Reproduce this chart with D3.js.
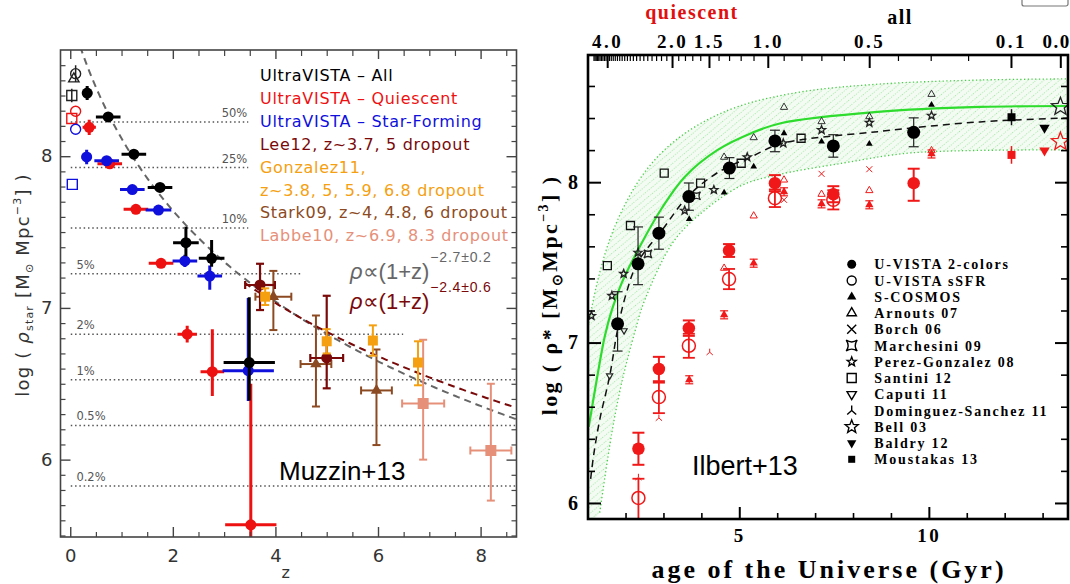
<!DOCTYPE html>
<html><head><meta charset="utf-8">
<script src="https://cdn.jsdelivr.net/npm/d3@7/dist/d3.min.js"></script>
<style>
html,body{margin:0;padding:0;background:#fff;}
svg{display:block;}
</style></head>
<body>
<svg id="fig" width="1070" height="584"></svg>
<script>
// ================= Left panel: Muzzin+13, log stellar mass density vs z =================
// rows: [z, log rho, half-width in z, error up, error down]
const uvAll = [
  [0.33, 8.416, 0.10, 0.046, 0.046], [0.74, 8.259, 0.24, 0.02, 0.02],
  [1.24, 8.013, 0.24, 0.02, 0.02], [1.75, 7.794, 0.24, 0.02, 0.02],
  [2.255, 7.43, 0.25, 0.105, 0.09], [2.756, 7.327, 0.25, 0.12, 0.055],
  [3.49, 6.64, 0.50, 0.43, 0.25]
];
const uvQui = [
  [0.37, 8.19, 0.13, 0.05, 0.05], [0.77, 7.95, 0.24, 0.02, 0.02],
  [1.28, 7.65, 0.24, 0.02, 0.02], [1.77, 7.294, 0.24, 0.02, 0.02],
  [2.28, 6.827, 0.19, 0.055, 0.055], [2.77, 6.58, 0.23, 0.28, 0.16],
  [3.52, 5.57, 0.50, 0.93, 0.30]
];
const uvSF = [
  [0.32, 7.995, 0.10, 0.048, 0.048], [0.71, 7.97, 0.24, 0.02, 0.02],
  [1.21, 7.78, 0.24, 0.02, 0.02], [1.72, 7.645, 0.25, 0.02, 0.02],
  [2.235, 7.31, 0.24, 0.04, 0.04], [2.72, 7.21, 0.24, 0.07, 0.09],
  [3.47, 6.586, 0.50, 0.48, 0.20]
];
// local reference points: [z, log rho, error, shape]
const localAll = [[0.105, 8.544, 0.055, "circle"], [0.07, 8.51, 0, "triUp"], [0.03, 8.40, 0.045, "square"]];
const localQui = [[0.105, 8.296, 0, "circle"], [0.03, 8.248, 0, "square"]];
const localSF  = [[0.105, 8.178, 0, "circle"], [0.04, 7.814, 0, "square"]];
// dropout samples: [z, log rho, half-width in z, error up, error down]
const lee12 = [[3.70, 7.151, 0.29, 0.14, 0.165], [5.00, 6.67, 0.32, 0.41, 0.20]];
const gonzalez11 = [[3.80, 7.074, 0, 0.055, 0.055], [5.00, 6.78, 0, 0.08, 0.08], [5.90, 6.785, 0, 0.10, 0.10], [6.78, 6.64, 0, 0.14, 0.15]];
const stark09 = [[3.96, 7.074, 0.35, 0.17, 0.22], [4.79, 6.63, 0.30, 0.32, 0.28], [5.97, 6.456, 0.30, 0.27, 0.36]];
const labbe10 = [[6.88, 6.37, 0.41, 0.42, 0.37], [8.20, 6.06, 0.40, 0.44, 0.33]];
// fraction-of-today reference levels
const pctLabels = ["50%", "25%", "10%", "5%", "2%", "1%", "0.5%", "0.2%"];
const pctLevels = [8.226, 7.925, 7.526, 7.225, 6.826, 6.526, 6.225, 5.826];
const pctEndZ   = [3.47, 3.47, 3.47, 4.50, 6.49, 8.70, 8.70, 8.70];
// power-law fits: log rho = norm + slope * log10(1+z)
const fitAll = {norm: 8.93, slope: -2.7, zFrom: -0.19};
const fitLBG = {norm: 8.71, slope: -2.4, zFrom: 3.40};
const legendLeft = [
  ["UltraVISTA – All", "#000000"], ["UltraVISTA – Quiescent", "#ee1111"],
  ["UltraVISTA – Star-Forming", "#1010dd"], ["Lee12, z~3.7, 5 dropout", "#7a0a0a"],
  ["Gonzalez11,", "#f5a010"], ["z~3.8, 5, 5.9, 6.8 dropout", "#f5a010"],
  ["Stark09, z~4, 4.8, 6 dropout", "#8c4a22"], ["Labbe10, z~6.9, 8.3 dropout", "#e6907a"]
];
const xTicksL = [0, 2, 4, 6, 8];
const yTicksL = [6, 7, 8];

// ================= Right panel: Ilbert+13, log stellar mass density vs cosmic age =================
// [age Gyr, log rho, error up, error down]
const vista2col = [[1.79, 7.117, 0.20, 0.17], [2.33, 7.491, 0.23, 0.13], [2.88, 7.682, 0.10, 0.10], [3.67, 7.910, 0.085, 0.085],
  [4.74, 8.088, 0.065, 0.065], [5.94, 8.257, 0.067, 0.067], [7.48, 8.226, 0.07, 0.07], [9.60, 8.311, 0.09, 0.09]];
const vista2colQ = [[2.34, 6.338, 0.10, 0.10], [2.88, 6.835, 0.076, 0.076], [3.67, 7.09, 0.048, 0.048], [4.73, 7.574, 0.04, 0.04],
  [5.94, 7.994, 0.05, 0.05], [7.48, 7.925, 0.05, 0.05], [9.60, 7.994, 0.09, 0.11]];
const vistaSsfrQ = [[2.34, 6.031, 0.12, 0.20], [2.88, 6.66, 0.09, 0.10], [3.67, 6.98, 0.075, 0.075], [4.73, 7.396, 0.063, 0.063],
  [5.94, 7.90, 0.055, 0.055], [7.48, 7.89, 0.06, 0.06]];
const scosmos  = [[3.68, 7.77], [4.60, 7.935], [5.38, 8.097], [6.18, 8.305], [7.17, 8.253], [8.43, 8.239], [10.07, 8.482]];
const scosmosQ = [[3.68, 6.768], [4.60, 7.173], [5.38, 7.495], [6.18, 7.94], [7.17, 7.865], [8.43, 7.859], [10.07, 8.176]];
const arnouts  = [[4.60, 8.156], [5.38, 8.278], [6.18, 8.467], [7.17, 8.378], [8.43, 8.409], [10.07, 8.548]];
const arnoutsQ = [[4.60, 7.464], [5.38, 7.79], [6.18, 8.014], [7.17, 7.925], [8.43, 7.948], [10.07, 8.197]];
const borchQ = [[6.18, 7.89], [7.17, 8.052], [8.43, 8.081]];
const marchesini = [[2.59, 7.553], [3.87, 7.915]];
const perezGonzalez = [[1.10, 7.167], [1.64, 7.292], [1.95, 7.429], [2.33, 7.561], [3.56, 7.823], [4.33, 7.952], [5.21, 8.156],
  [6.16, 8.243], [7.17, 8.326], [8.43, 8.371], [10.07, 8.415]];
const santini = [[1.52, 7.48], [2.13, 7.73], [3.02, 8.056], [3.98, 7.994], [5.05, 8.118], [6.63, 8.274]];
const caputi = [[1.96, 7.075], [1.58, 6.793]];
const dominguezQ = [[2.34, 6.16], [2.88, 6.53], [4.22, 6.94]];
const bell03 = [[13.47, 8.471]], bell03Q = [[13.47, 8.253]];
const baldry12 = [[13.05, 8.34]], baldry12Q = [[13.05, 8.197]];
const moustakas13 = [[12.18, 8.405, 0.05, 0.05]], moustakas13Q = [[12.18, 8.17, 0.055, 0.055]];
// model band (age, log rho) and fits
const modelMid = [[1.03, 6.475], [1.24, 6.768], [1.45, 7.036], [1.64, 7.204], [1.90, 7.372], [2.37, 7.596], [2.96, 7.839],
  [3.56, 8.033], [4.43, 8.201], [5.33, 8.307], [6.12, 8.369], [8.65, 8.438], [11.35, 8.469], [13.67, 8.475]];
const modelUpper = [[1.01, 7.10], [1.27, 7.391], [1.58, 7.640], [1.98, 7.858], [2.51, 8.064], [3.17, 8.232], [3.96, 8.363],
  [5.01, 8.475], [6.60, 8.562], [8.71, 8.612], [11.35, 8.637], [13.67, 8.644]];
const modelLower = [[1.32, 5.940], [1.64, 6.439], [1.90, 6.751], [2.24, 7.062], [2.51, 7.267], [3.30, 7.641], [4.20, 7.846],
  [5.09, 7.983], [5.99, 8.045], [7.76, 8.120], [9.55, 8.183], [13.67, 8.201]];
const fitVista = [[1.08, 6.15], [1.16, 6.30], [1.32, 6.52], [1.58, 6.79], [1.79, 7.08], [2.01, 7.30], [2.32, 7.50], [2.96, 7.70],
  [3.64, 7.91], [4.43, 8.06], [5.33, 8.16], [6.10, 8.24], [8.65, 8.315], [11.35, 8.376], [13.67, 8.40]];
const legendRight = ["U-VISTA 2-colors", "U-VISTA sSFR", "S-COSMOS", "Arnouts 07", "Borch 06", "Marchesini 09",
  "Perez-Gonzalez 08", "Santini 12", "Caputi 11", "Dominguez-Sanchez 11", "Bell 03", "Baldry 12", "Moustakas 13"];
const legendRightSym = ["circle", "circle", "triUp", "triUp", "cross", "astroid", "star", "square", "triDown", "tripod", "star", "triDown", "square"];
const legendRightFill = [true, false, true, false, false, false, false, false, false, false, false, true, true];
const legendRightSize = [9, 9, 9, 9, 9, 11, 9, 9, 9, 10, 13, 9, 7];
const zMajor = [4.0, 2.0, 1.5, 1.0, 0.5, 0.1, 0.0];
const ageTicks = [5, 10];
const yTicksR = [6, 7, 8];

// ---------------- scales ----------------
const xL = d3.scaleLinear().domain([-0.19, 8.70]).range([60.5, 516.5]);
const yL = d3.scaleLinear().domain([5.49, 8.70]).range([537, 50]);
const xR = d3.scaleLinear().domain([1.01, 13.67]).range([588, 1068]);
const yR = d3.scaleLinear().domain([5.90, 8.793]).range([519, 55]);

// age of a flat LCDM universe (H0=70, Om=0.3) used for the redshift axis
const H0 = 70, Om = 0.3, OL = 0.7, tHubble = 977.8 / H0;
function ageAt(z) {
  return tHubble * 2 / (3 * Math.sqrt(OL)) * Math.asinh(Math.sqrt(OL / Om) * Math.pow(1 + z, -1.5));
}
const zGrid = d3.range(0, 51).map(i => i / 10);
const zTop = d3.scaleLinear().domain(zGrid).range(zGrid.map(z => xR(ageAt(z))));

const svg = d3.select("#fig");
const defs = svg.append("defs");
defs.append("clipPath").attr("id", "clipL").append("rect")
  .attr("x", 60.5).attr("y", 50).attr("width", 456).attr("height", 487);
defs.append("clipPath").attr("id", "clipR").append("rect")
  .attr("x", 588).attr("y", 55).attr("width", 480).attr("height", 464);
const pat = defs.append("pattern").attr("id", "hatch").attr("width", 5).attr("height", 5)
  .attr("patternUnits", "userSpaceOnUse").attr("patternTransform", "rotate(-40)");
pat.append("line").attr("x1", 0).attr("y1", 2.5).attr("x2", 5).attr("y2", 2.5)
  .attr("stroke", "#92e292").attr("stroke-width", 0.8).attr("stroke-dasharray", "1 1.7");

// marker shapes centred on the origin
function sym(type, s) {
  const h = s / 2;
  if (type === "circle") return `M${h},0A${h},${h},0,1,1,${-h},0A${h},${h},0,1,1,${h},0Z`;
  if (type === "square") return `M${-h},${-h}H${h}V${h}H${-h}Z`;
  if (type === "triUp") { const r = h * 1.2; return `M0,${-r}L${0.866 * r},${0.5 * r}L${-0.866 * r},${0.5 * r}Z`; }
  if (type === "triDown") { const r = h * 1.2; return `M0,${r}L${0.866 * r},${-0.5 * r}L${-0.866 * r},${-0.5 * r}Z`; }
  if (type === "cross") return `M${-h},${-h}L${h},${h}M${-h},${h}L${h},${-h}`;
  if (type === "astroid") { const c = h * 0.3; return `M${-h},${-h}Q0,${-c},${h},${-h}Q${c},0,${h},${h}Q0,${c},${-h},${h}Q${-c},0,${-h},${-h}Z`; }
  if (type === "star") {
    let p = "";
    for (let i = 0; i < 10; i++) {
      const a = -Math.PI / 2 + i * Math.PI / 5, r = (i % 2) ? h * 0.45 : h * 1.05;
      p += (i ? "L" : "M") + (r * Math.cos(a)).toFixed(2) + "," + (r * Math.sin(a)).toFixed(2);
    }
    return p + "Z";
  }
  if (type === "tripod") return `M0,${-h}V0L${-0.9 * h},${0.8 * h}M0,0L${0.9 * h},${0.8 * h}`;
  return "";
}

// ======================= LEFT PANEL =======================
const gL = svg.append("g");
const gLc = gL.append("g").attr("clip-path", "url(#clipL)");

// reference level lines
pctLevels.forEach((v, i) => {
  gLc.append("line").attr("x1", xL(0.01)).attr("x2", xL(pctEndZ[i])).attr("y1", yL(v)).attr("y2", yL(v))
    .attr("stroke", "#555").attr("stroke-width", 1.5).attr("stroke-dasharray", "1.5 2.8");
  const right = i < 3;
  gL.append("text").attr("x", right ? xL(pctEndZ[i]) - 1 : xL(0.12)).attr("y", yL(v) - 5)
    .attr("text-anchor", right ? "end" : "start").attr("font-family", "DejaVu Sans").attr("font-size", 11.5)
    .attr("fill", "#555").text(pctLabels[i]);
});

// power-law fits
function fitPath(f) {
  const zs = d3.range(f.zFrom, 8.75, 0.05);
  return d3.line().x(z => xL(z)).y(z => yL(f.norm + f.slope * Math.log10(1 + z)))(zs);
}
gLc.append("path").attr("d", fitPath(fitAll)).attr("fill", "none").attr("stroke", "#666")
  .attr("stroke-width", 2).attr("stroke-dasharray", "7 5");
gLc.append("path").attr("d", fitPath(fitLBG)).attr("fill", "none").attr("stroke", "#7a0a0a")
  .attr("stroke-width", 2).attr("stroke-dasharray", "7 5");

// error bars + markers
function drawLeft(data, color, shape, size, lw, cap) {
  const g = gLc.append("g").attr("stroke", color).attr("stroke-width", lw);
  data.forEach(d => {
    const [z, v, dz, up, dn] = d;
    if (dz > 0) {
      g.append("line").attr("x1", xL(z - dz)).attr("x2", xL(z + dz)).attr("y1", yL(v)).attr("y2", yL(v));
      if (cap) [z - dz, z + dz].forEach(e => g.append("line").attr("x1", xL(e)).attr("x2", xL(e)).attr("y1", yL(v) - cap).attr("y2", yL(v) + cap));
    }
    if (up > 0 || dn > 0) {
      g.append("line").attr("x1", xL(z)).attr("x2", xL(z)).attr("y1", yL(v + up)).attr("y2", yL(v - dn));
      if (cap) [v + up, v - dn].forEach(e => g.append("line").attr("x1", xL(z) - cap).attr("x2", xL(z) + cap).attr("y1", yL(e)).attr("y2", yL(e)));
    }
  });
  gLc.append("g").selectAll("path").data(data).join("path")
    .attr("transform", d => `translate(${xL(d[0])},${yL(d[1])})`)
    .attr("d", sym(shape, size)).attr("fill", color).attr("stroke", "none");
}
drawLeft(stark09, "#8c4a22", "triUp", 11, 2, 4);
drawLeft(labbe10, "#e6907a", "square", 11, 2, 4);
drawLeft(lee12, "#7a0a0a", "circle", 11, 2.2, 4);
drawLeft(gonzalez11, "#f5a010", "square", 10, 2, 4);
drawLeft(uvQui, "#ee1111", "circle", 11, 3, 0);
drawLeft(uvSF, "#1010dd", "circle", 11, 3, 0);
drawLeft(uvAll, "#000000", "circle", 11, 3, 0);

function drawLocal(data, color) {
  data.forEach(d => {
    const [z, v, e, shape] = d;
    if (e > 0) gLc.append("line").attr("x1", xL(z)).attr("x2", xL(z)).attr("y1", yL(v + e)).attr("y2", yL(v - e))
      .attr("stroke", color).attr("stroke-width", 1.5);
    gLc.append("path").attr("transform", `translate(${xL(z)},${yL(v)})`).attr("d", sym(shape, 10))
      .attr("fill", "none").attr("stroke", color).attr("stroke-width", 1.4);
  });
}
drawLocal(localAll, "#222");
drawLocal(localQui, "#ee1111");
drawLocal(localSF, "#1010dd");

// frame and axes
const axisColor = "#444";
function styleAxis(g, w) {
  g.select(".domain").remove();
  g.selectAll("line").attr("stroke", axisColor).attr("stroke-width", w);
}
const xMinorL = d3.range(0, 18).map(i => i / 2).filter(z => !xTicksL.includes(z));
const yMinorL = d3.range(55, 87).map(i => i / 10).filter(v => !yTicksL.includes(v));
const fontL = {family: "DejaVu Sans", size: 18};
gL.append("g").attr("transform", "translate(0,537)")
  .call(d3.axisBottom(xL).tickValues(xTicksL).tickSize(-10).tickPadding(12).tickFormat(d3.format("d")))
  .call(g => { styleAxis(g, 1.4); g.selectAll("text").attr("font-family", fontL.family).attr("font-size", fontL.size).attr("fill", "#333"); });
gL.append("g").attr("transform", "translate(0,537)")
  .call(d3.axisBottom(xL).tickValues(xMinorL).tickSize(-5).tickFormat(""))
  .call(g => styleAxis(g, 1.2));
gL.append("g").attr("transform", "translate(0,50)")
  .call(d3.axisTop(xL).tickValues(xTicksL).tickSize(-9).tickFormat(""))
  .call(g => styleAxis(g, 1.4));
gL.append("g").attr("transform", "translate(0,50)")
  .call(d3.axisTop(xL).tickValues(xMinorL).tickSize(-6).tickFormat(""))
  .call(g => styleAxis(g, 1.2));
gL.append("g").attr("transform", "translate(60.5,0)")
  .call(d3.axisLeft(yL).tickValues(yTicksL).tickSize(-10).tickPadding(8).tickFormat(d3.format("d")))
  .call(g => { styleAxis(g, 1.4); g.selectAll("text").attr("font-family", fontL.family).attr("font-size", fontL.size).attr("fill", "#333"); });
gL.append("g").attr("transform", "translate(60.5,0)")
  .call(d3.axisLeft(yL).tickValues(yMinorL).tickSize(-5).tickFormat(""))
  .call(g => styleAxis(g, 1.2));
gL.append("g").attr("transform", "translate(516.5,0)")
  .call(d3.axisRight(yL).tickValues(yTicksL).tickSize(-10).tickFormat(""))
  .call(g => styleAxis(g, 1.4));
gL.append("g").attr("transform", "translate(516.5,0)")
  .call(d3.axisRight(yL).tickValues(yMinorL).tickSize(-5).tickFormat(""))
  .call(g => styleAxis(g, 1.2));
gL.append("rect").attr("x", 60.5).attr("y", 50).attr("width", 456).attr("height", 487)
  .attr("fill", "none").attr("stroke", axisColor).attr("stroke-width", 1.6);

// axis titles
const yTitleL = gL.append("text").attr("transform", "translate(29,285) rotate(-90)").attr("text-anchor", "middle")
  .attr("font-family", "DejaVu Sans").attr("font-size", 18).attr("fill", "#333").attr("letter-spacing", 1.2);
yTitleL.append("tspan").text("log ( ");
yTitleL.append("tspan").attr("font-style", "italic").text("ρ");
yTitleL.append("tspan").attr("font-size", 11).attr("dy", 4).text("star");
yTitleL.append("tspan").attr("dy", -4).text(" [M");
yTitleL.append("tspan").attr("font-size", 11).attr("dy", 4).text("⊙");
yTitleL.append("tspan").attr("dy", -4).text(" Mpc");
yTitleL.append("tspan").attr("font-size", 11).attr("dy", -8).text("−3");
yTitleL.append("tspan").attr("dy", 8).text("] )");
gL.append("text").attr("x", xL(4.2)).attr("y", 578).attr("text-anchor", "middle")
  .attr("font-family", "DejaVu Sans").attr("font-size", 16).attr("fill", "#333").text("z");

// legend
legendLeft.forEach((d, i) => {
  gL.append("text").attr("x", 260).attr("y", 81 + i * 22.9).attr("font-family", "DejaVu Sans")
    .attr("font-size", 16).attr("letter-spacing", 0.7).attr("fill", d[1]).text(d[0]);
});

// fit annotations
function formula(x, y, color, sup) {
  const t = gL.append("text").attr("x", x).attr("y", y).attr("font-family", "Liberation Sans")
    .attr("font-size", 22).attr("fill", color);
  t.append("tspan").attr("font-style", "italic").text("ρ");
  t.append("tspan").text("∝(1+z)");
  const w = t.node().getComputedTextLength();
  gL.append("text").attr("x", x + w + 1).attr("y", y - 17).attr("font-family", "Liberation Sans")
    .attr("font-size", 14).attr("letter-spacing", 0.8).attr("fill", color).text(sup);
}
formula(350, 279, "#666", "−2.7±0.2");
formula(350, 309, "#7a0a0a", "−2.4±0.6");

gL.append("text").attr("x", 279).attr("y", 480).attr("font-family", "Liberation Sans").attr("font-size", 26)
  .attr("fill", "#000").text("Muzzin+13");

// ======================= RIGHT PANEL =======================
const gR = svg.append("g");
const gRc = gR.append("g").attr("clip-path", "url(#clipR)");
const lineR = d3.line().x(d => xR(d[0])).y(d => yR(d[1])).curve(d3.curveCatmullRom.alpha(0.5));

// model band
const upperPath = lineR(modelUpper);
const lowerRev = lineR(modelLower.slice().reverse()).replace(/^M/, "L");
const bandPath = upperPath + lowerRev + `L${xR(1.01)},${yR(5.85)}Z`;
gRc.append("path").attr("d", bandPath).attr("fill", "#f3fbf3");
gRc.append("path").attr("d", bandPath).attr("fill", "url(#hatch)");
[modelUpper, modelLower].forEach(edge => gRc.append("path").attr("d", lineR(edge)).attr("fill", "none")
  .attr("stroke", "#4ccc4c").attr("stroke-width", 1.3).attr("stroke-dasharray", "1.3 2.4"));
gRc.append("path").attr("d", lineR(modelMid)).attr("fill", "none").attr("stroke", "#2ddc2d").attr("stroke-width", 2.2);
gRc.append("path").attr("d", lineR(fitVista)).attr("fill", "none").attr("stroke", "#111").attr("stroke-width", 1.5)
  .attr("stroke-dasharray", "7 5");

function errR(data, color, lw, cap) {
  const g = gRc.append("g").attr("stroke", color).attr("stroke-width", lw);
  data.forEach(d => {
    const [a, v, up, dn] = d, x = xR(a);
    g.append("line").attr("x1", x).attr("x2", x).attr("y1", yR(v + up)).attr("y2", yR(v - dn));
    [v + up, v - dn].forEach(e => g.append("line").attr("x1", x - cap).attr("x2", x + cap).attr("y1", yR(e)).attr("y2", yR(e)));
  });
}
function symR(data, type, size, fill, stroke, sw) {
  gRc.append("g").selectAll("path").data(data).join("path")
    .attr("transform", d => `translate(${xR(d[0])},${yR(d[1])})`)
    .attr("d", sym(type, size)).attr("fill", fill).attr("stroke", stroke).attr("stroke-width", sw);
}
const RED = "#f01818";
// literature, all galaxies
symR(arnouts, "triUp", 7, "none", "#333", 1);
symR(scosmos, "triUp", 6.5, "#000", "none", 0);
symR(perezGonzalez, "star", 8, "none", "#222", 1.4);
symR(marchesini, "astroid", 8, "none", "#222", 1.3);
symR(santini, "square", 8, "none", "#111", 1.3);
symR(caputi, "triDown", 6, "none", "#222", 1.2);
symR(bell03, "star", 18, "none", "#222", 1.3);
symR(baldry12, "triDown", 10, "#000", "none", 0);
errR(moustakas13, "#111", 1.5, 0);
symR(moustakas13, "square", 8, "#000", "none", 0);
// literature, quiescent
symR(arnoutsQ, "triUp", 7, "none", RED, 1);
symR(borchQ, "cross", 6, "none", RED, 1);
symR(dominguezQ, "tripod", 7, "none", RED, 1);
errR(scosmosQ.map(d => [d[0], d[1], 0.025, 0.025]), RED, 1.2, 4);
symR(scosmosQ, "triUp", 8, RED, "none", 0);
symR(bell03Q, "star", 18, "none", RED, 1.3);
symR(baldry12Q, "triDown", 10, RED, "none", 0);
errR(moustakas13Q, RED, 1.5, 0);
symR(moustakas13Q, "square", 8, RED, "none", 0);
// U-VISTA
errR(vistaSsfrQ, RED, 1.8, 6);
symR(vistaSsfrQ, "circle", 13, "none", RED, 1.5);
errR(vista2colQ, RED, 2, 6);
symR(vista2colQ, "circle", 12.5, RED, "none", 0);
errR(vista2col, "#222", 1.2, 5);
symR(vista2col, "circle", 13, "#000", "none", 0);

// axes
function styleR(g, w) {
  g.select(".domain").remove();
  g.selectAll("line").attr("stroke", "#000").attr("stroke-width", w);
  g.selectAll("text").attr("font-family", "Liberation Serif").attr("font-weight", "bold").attr("fill", "#000");
}
const zMinor = zGrid.filter(z => !zMajor.includes(z));
const ageMinor = d3.range(2, 14).filter(a => !ageTicks.includes(a));
const yMinorR = d3.range(30, 44).map(i => i / 5).filter(v => !yTicksR.includes(v));
gR.append("g").attr("transform", "translate(0,55)")
  .call(d3.axisTop(zTop).tickValues(zMajor).tickSize(-13).tickPadding(7).tickFormat(d3.format(".1f")))
  .call(g => {
    styleR(g, 2);
    g.selectAll("text").attr("font-size", 19).attr("letter-spacing", 2.5);
    // keep the z = 0 label inside the page
    g.selectAll(".tick").filter(d => d === 0).select("text").attr("text-anchor", "end").attr("x", 10).attr("letter-spacing", 1.5);
  });
gR.append("g").attr("transform", "translate(0,55)")
  .call(d3.axisTop(zTop).tickValues(zMinor).tickSize(-6).tickFormat(""))
  .call(g => styleR(g, 1.2));
gR.append("g").attr("transform", "translate(0,519)")
  .call(d3.axisBottom(xR).tickValues(ageTicks).tickSize(-12).tickPadding(10).tickFormat(d3.format("d")))
  .call(g => { styleR(g, 2); g.selectAll("text").attr("font-size", 19).attr("letter-spacing", 2.5); });
gR.append("g").attr("transform", "translate(0,519)")
  .call(d3.axisBottom(xR).tickValues(ageMinor).tickSize(-6).tickFormat(""))
  .call(g => styleR(g, 1.6));
gR.append("g").attr("transform", "translate(588,0)")
  .call(d3.axisLeft(yR).tickValues(yTicksR).tickSize(-13).tickPadding(10).tickFormat(d3.format("d")))
  .call(g => { styleR(g, 2); g.selectAll("text").attr("font-size", 20); });
gR.append("g").attr("transform", "translate(588,0)")
  .call(d3.axisLeft(yR).tickValues(yMinorR).tickSize(-7).tickFormat(""))
  .call(g => styleR(g, 1.6));
gR.append("g").attr("transform", "translate(1068,0)")
  .call(d3.axisRight(yR).tickValues(yTicksR).tickSize(-13).tickFormat(""))
  .call(g => styleR(g, 2));
gR.append("g").attr("transform", "translate(1068,0)")
  .call(d3.axisRight(yR).tickValues(yMinorR).tickSize(-7).tickFormat(""))
  .call(g => styleR(g, 1.6));
gR.append("rect").attr("x", 588).attr("y", 55).attr("width", 480).attr("height", 464)
  .attr("fill", "none").attr("stroke", "#000").attr("stroke-width", 2.6);

// titles
gR.append("text").attr("x", 692).attr("y", 19).attr("text-anchor", "middle").attr("font-family", "Liberation Serif")
  .attr("font-weight", "bold").attr("font-size", 20).attr("letter-spacing", 1.5).attr("fill", "#e01010").text("quiescent");
gR.append("text").attr("x", 900).attr("y", 24).attr("text-anchor", "middle").attr("font-family", "Liberation Serif")
  .attr("font-weight", "bold").attr("font-size", 20).attr("letter-spacing", 1.5).attr("fill", "#000").text("all");
gR.append("text").attr("x", 829).attr("y", 578).attr("text-anchor", "middle").attr("font-family", "Liberation Serif")
  .attr("font-weight", "bold").attr("font-size", 26).attr("letter-spacing", 3).attr("fill", "#000")
  .text("age of the Universe (Gyr)");
const yTitleR = gR.append("text").attr("transform", "translate(557,295) rotate(-90)").attr("text-anchor", "middle")
  .attr("font-family", "Liberation Serif").attr("font-weight", "bold").attr("font-size", 22)
  .attr("letter-spacing", 2.4).attr("fill", "#000");
yTitleR.append("tspan").text("log ( ρ* [M");
yTitleR.append("tspan").attr("font-size", 14).attr("dy", 5).text("⊙");
yTitleR.append("tspan").attr("dy", -5).text("Mpc");
yTitleR.append("tspan").attr("font-size", 14).attr("dy", -9).text("−3");
yTitleR.append("tspan").attr("dy", 9).text("] )");

// legend
legendRight.forEach((name, i) => {
  const y = 264.3 + i * 16.25;
  const t = legendRightSym[i];
  const filled = legendRightFill[i];
  gR.append("path").attr("transform", `translate(851.7,${y})`).attr("d", sym(t, legendRightSize[i]))
    .attr("fill", filled ? "#000" : "none").attr("stroke", filled ? "none" : "#000").attr("stroke-width", 1.4);
  gR.append("text").attr("x", 874.3).attr("y", y + 5).attr("font-family", "Liberation Serif").attr("font-weight", "bold")
    .attr("font-size", 14).attr("letter-spacing", 1.8).attr("fill", "#000").text(name);
});

gR.append("text").attr("x", 692).attr("y", 475).attr("font-family", "Liberation Sans").attr("font-size", 27)
  .attr("fill", "#000").text("Ilbert+13");

// small window control at the top-right corner
svg.append("rect").attr("x", 1022).attr("y", -6).attr("width", 46).attr("height", 12).attr("rx", 2)
  .attr("fill", "none").attr("stroke", "#777").attr("stroke-width", 1.2);
</script>
</body></html>
